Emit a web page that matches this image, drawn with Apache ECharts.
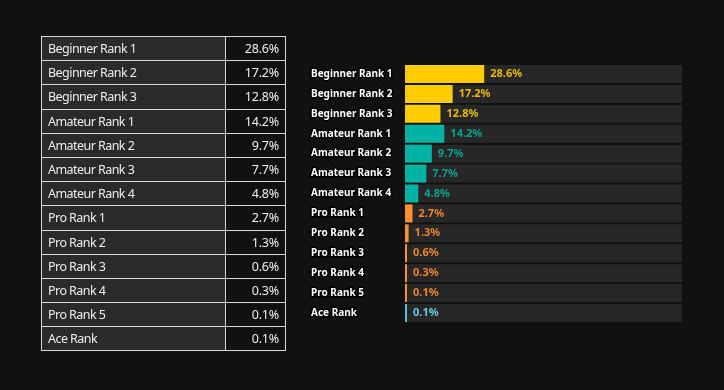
<!DOCTYPE html>
<html><head><meta charset="utf-8">
<script src="https://cdn.jsdelivr.net/npm/echarts@6/dist/echarts.min.js"></script>
<style>
html,body{margin:0;padding:0;background:#111111;width:724px;height:390px;overflow:hidden;}
#chart{position:absolute;left:0;top:0;width:724px;height:390px;}
#tbl{position:absolute;left:41px;top:36px;width:244px;height:315px;border-collapse:collapse;table-layout:fixed;font-family:"Noto Sans",sans-serif;font-size:12.5px;color:#eeeeee;letter-spacing:-0.55px;}
#tbl td{border:1.5px solid #d8d8d8;height:24.2px;padding:0 6px;box-sizing:border-box;}
#tbl td.n{background:#2a2a2a;width:184px;text-align:left;}
#tbl td.v{background:#111111;width:60px;text-align:right;letter-spacing:-0.2px;}
</style></head>
<body>
<div id="chart"></div>
<table id="tbl"></table>
<script>
var categories = ["Beginner Rank 1","Beginner Rank 2","Beginner Rank 3","Amateur Rank 1","Amateur Rank 2","Amateur Rank 3","Amateur Rank 4","Pro Rank 1","Pro Rank 2","Pro Rank 3","Pro Rank 4","Pro Rank 5","Ace Rank"];
var values = [28.6,17.2,12.8,14.2,9.7,7.7,4.8,2.7,1.3,0.6,0.3,0.1,0.1];
var tiers = ["beginner","beginner","beginner","amateur","amateur","amateur","amateur","pro","pro","pro","pro","pro","ace"];
var barColors = {beginner:"#ffcc00",amateur:"#00b3a3",pro:"#ff9030",ace:"#4cc6d6"};
var labelColors = {beginner:"#e8b806",amateur:"#0aa090",pro:"#e8862a",ace:"#66cce0"};

// table
var tbl = document.getElementById('tbl');
var html = '';
for (var i=0;i<categories.length;i++){
  html += '<tr><td class="n">'+categories[i]+'</td><td class="v">'+values[i].toFixed(1)+'%</td></tr>';
}
tbl.innerHTML = html;

var chart = echarts.init(document.getElementById('chart'), null, {renderer:'canvas'});
var data = values.map(function(v,i){
  return {value:v, itemStyle:{color:barColors[tiers[i]]},
    label:{color:labelColors[tiers[i]]}};
});
chart.setOption({
  backgroundColor:'transparent',
  animation:false,
  grid:{left:405,top:64,width:277,height:259,containLabel:false},
  xAxis:{type:'value',min:0,max:100,show:false},
  yAxis:{type:'category',data:categories,inverse:true,
    axisLine:{show:false},axisTick:{show:false},splitLine:{show:false},
    axisLabel:{margin:94,align:'left',color:'#ffffff',fontFamily:'"Noto Sans",sans-serif',fontWeight:'bold',fontSize:10,
      textBorderColor:'#000000',textBorderWidth:3}},
  series:[{type:'bar',data:data,barWidth:18,barMinHeight:2,
    showBackground:true,backgroundStyle:{color:'#272727'},
    label:{show:true,position:'right',distance:6,fontFamily:'"Noto Sans",sans-serif',fontWeight:'bold',fontSize:11,
      formatter:function(p){return p.value.toFixed(1)+'%';}}
  }]
});
</script>
</body></html>
